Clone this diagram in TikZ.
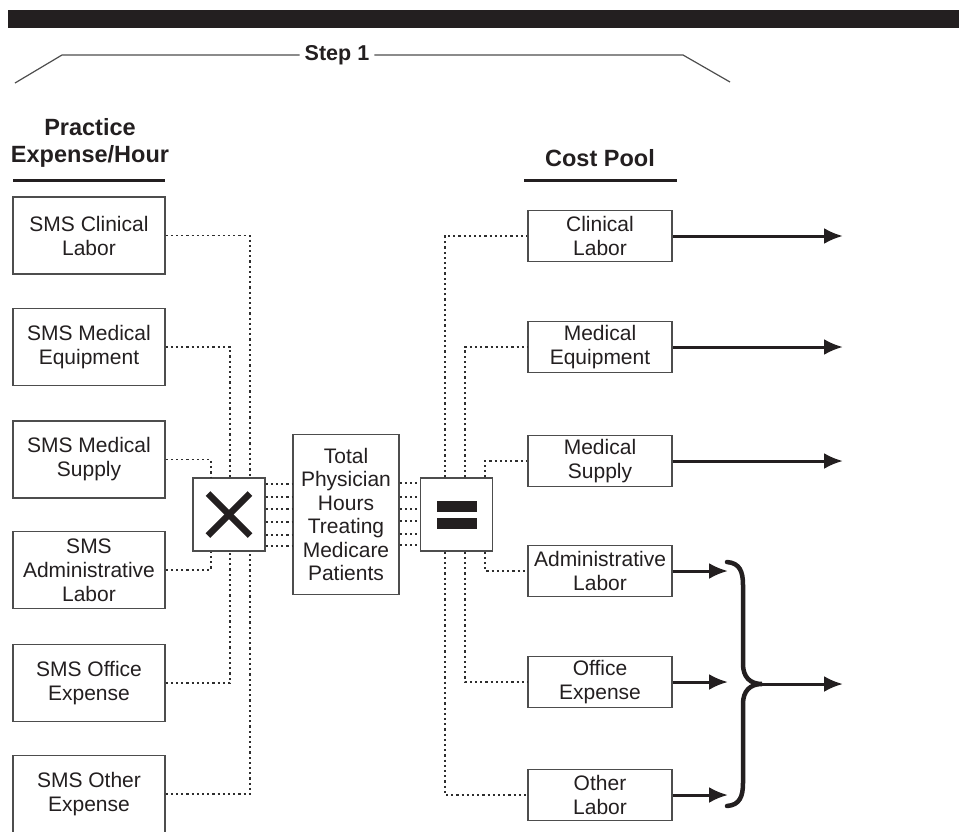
\documentclass[tikz,border=0pt]{standalone}
\usepackage{fontspec}
\setmainfont{Liberation Sans}
\usetikzlibrary{arrows.meta,positioning,calc}
\definecolor{inkblack}{HTML}{231F20}
\definecolor{boxgray}{HTML}{4D4D4D}
\definecolor{dotgray}{HTML}{2E2E2E}
\newcommand\boxtext{\fontsize{21}{24}\selectfont}
\newcommand\totaltext{\fontsize{21}{23.5}\selectfont}
\newcommand\headtext{\fontsize{23.5}{27}\selectfont\bfseries}
\tikzset{
  srcbox/.style={draw=boxgray, line width=1.3pt, minimum width=152pt, minimum height=77pt, align=center, font=\boxtext, text=inkblack, inner sep=0pt},
  poolbox/.style={draw=boxgray, line width=1.3pt, minimum width=144pt, minimum height=51pt, align=center, font=\boxtext, text=inkblack, inner sep=0pt},
  opbox/.style={draw=boxgray, line width=1.3pt, minimum width=72pt, minimum height=73pt, align=center, inner sep=0pt},
  headlabel/.style={font=\headtext, text=inkblack, align=center, inner sep=6pt},
  dotline/.style={draw=dotgray, line width=1.5pt, dash pattern=on 2.2pt off 3pt},
  flowarrow/.style={-{Latex[length=19pt,width=16pt]}, line width=3pt, draw=inkblack},
  bracketline/.style={draw=boxgray, line width=1.2pt}
}
\begin{document}
\begin{tikzpicture}[x=1pt,y=-1pt]
  \useasboundingbox (0,0) rectangle (959,831);
  \fill[inkblack] (8,10) rectangle (959,28);

  % step bracket
  \node[headlabel, font=\fontsize{21.5}{24}\selectfont\bfseries, inner sep=5pt] (step) at (337,55) {Step 1};
  \draw[bracketline] (15,83) -- (62,55) -- (step.west);
  \draw[bracketline] (step.east) -- (683,55) -- (730,82);

  % headings
  \node[headlabel] (pehead) at (90,143) {Practice\\Expense/Hour};
  \draw[line width=3pt, inkblack] (13,180) -- (165,180);
  \node[headlabel] (poolhead) at (600,158) {Cost Pool};
  \draw[line width=3pt, inkblack] (524,180) -- (677,180);

  % practice expense inputs
  \node[srcbox] (smsclin) at (89,235.5) {SMS Clinical\\Labor};
  \node[srcbox] (smsequip) at (89,347) {SMS Medical\\Equipment};
  \node[srcbox] (smssupply) at (89,459.5) {SMS Medical\\Supply};
  \node[srcbox] (smsadmin) at (89,570) {SMS\\Administrative\\Labor};
  \node[srcbox] (smsoffice) at (89,683) {SMS Office\\Expense};
  \node[srcbox] (smsother) at (89,794) {SMS Other\\Expense};

  % operators and hours
  \node[opbox] (times) at (229,514.5) {};
  \draw[line width=6.5pt, inkblack] ([shift={(-21,-21)}]times.center) -- ([shift={(21,21)}]times.center);
  \draw[line width=6.5pt, inkblack] ([shift={(-21,21)}]times.center) -- ([shift={(21,-21)}]times.center);
  \node[opbox, minimum width=106pt, minimum height=160pt, font=\totaltext, text=inkblack] (hours) at (346,514.5) {Total\\Physician\\Hours\\Treating\\Medicare\\Patients};
  \node[opbox] (equals) at (456.5,514.5) {};
  \fill[inkblack] ([shift={(-19.5,-13.5)}]equals.center) rectangle ([shift={(20.5,-3)}]equals.center);
  \fill[inkblack] ([shift={(-19.5,3.5)}]equals.center) rectangle ([shift={(20.5,14)}]equals.center);

  % cost pools
  \node[poolbox] (poolclin) at (600,236) {Clinical\\Labor};
  \node[poolbox] (poolequip) at (600,347) {Medical\\Equipment};
  \node[poolbox] (poolsupply) at (600,461) {Medical\\Supply};
  \node[poolbox] (pooladmin) at (600,571) {Administrative\\Labor};
  \node[poolbox] (pooloffice) at (600,682) {Office\\Expense};
  \node[poolbox] (poolother) at (600,795) {Other\\Labor};

  % dotted links into the multiply box
  \draw[dotline] (smsclin.east) -| ([xshift=21pt]times.north);
  \draw[dotline] (smsequip.east) -| ([xshift=1pt]times.north);
  \draw[dotline] (smssupply.east) -| ([xshift=-18pt]times.north);
  \draw[dotline] (smsadmin.east) -| ([xshift=-18pt]times.south);
  \draw[dotline] (smsoffice.east) -| ([xshift=1pt]times.south);
  \draw[dotline] (smsother.east) -| ([xshift=21pt]times.south);
  \foreach \dy in {30.5,17.5,5.5,-7.5,-20.5,-31.5}
    \draw[dotline] ([yshift=\dy pt]times.east) -- ([yshift=\dy pt]hours.west);
  \foreach \dy in {31.5,17.5,5.5,-6.5,-19.5,-30.5}
    \draw[dotline] ([yshift=\dy pt]hours.east) -- ([yshift=\dy pt]equals.west);

  % dotted links out of the equals box
  \draw[dotline] ([xshift=-11.5pt]equals.north) |- (poolclin.west);
  \draw[dotline] ([xshift=8.5pt]equals.north) |- (poolequip.west);
  \draw[dotline] ([xshift=28.5pt]equals.north) |- (poolsupply.west);
  \draw[dotline] ([xshift=28.5pt]equals.south) |- (pooladmin.west);
  \draw[dotline] ([xshift=8.5pt]equals.south) |- (pooloffice.west);
  \draw[dotline] ([xshift=-11.5pt]equals.south) |- (poolother.west);

  % outputs
  \coordinate (arrowend) at (843,0);
  \coordinate (bracein) at (728,0);
  \coordinate (bracetip) at (762,684);
  \draw[flowarrow] (poolclin.east) -- (poolclin.east -| arrowend);
  \draw[flowarrow] (poolequip.east) -- (poolequip.east -| arrowend);
  \draw[flowarrow] (poolsupply.east) -- (poolsupply.east -| arrowend);
  \draw[flowarrow] (pooladmin.east) -- (pooladmin.east -| bracein);
  \draw[flowarrow] (pooloffice.east) -- (pooloffice.east -| bracein);
  \draw[flowarrow] (poolother.east) -- (poolother.east -| bracein);
  \draw[line width=4.5pt, inkblack, line cap=round] (727,562) .. controls (740,563) and (743,572) .. (743,585)
    -- (743,664) .. controls (743,677) and (750,684) .. (bracetip)
    .. controls (750,684) and (743,691) .. (743,704)
    -- (743,783) .. controls (743,796) and (740,805) .. (727,806);
  \draw[flowarrow] (bracetip) -- (bracetip -| arrowend);
\end{tikzpicture}
\end{document}
